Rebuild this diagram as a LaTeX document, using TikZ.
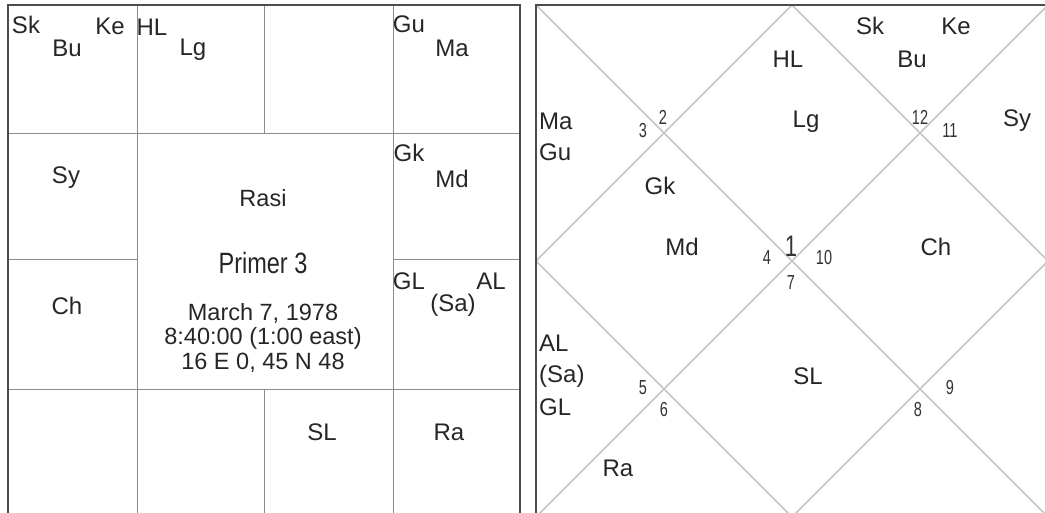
\documentclass[tikz,border=0pt]{standalone}
\usepackage{fontspec}
\setmainfont{Liberation Sans}
\usepackage{graphicx}
\newcommand{\tallx}[2][1.4]{\scalebox{1}[#1]{#2}}
\begin{document}
\begin{tikzpicture}[x=1pt,y=-1pt,
  lbl/.style={font=\fontsize{24}{26}\selectfont, text=black!85, inner sep=0pt},
  num/.style={font=\fontsize{14.5}{16}\selectfont, text=black!80, inner sep=0pt},
  ctr/.style={font=\fontsize{23.5}{25}\selectfont, text=black!85, inner sep=0pt},
  gridline/.style={draw=black!45, line width=1pt},
  outerline/.style={draw=black!70, line width=1.6pt},
  diagline/.style={draw=black!22, line width=1.6pt}]
\useasboundingbox (0,0) rectangle (1045,513);
\clip (0,0) rectangle (1045,513);
\fill[white] (0,0) rectangle (1045,513);
% ---------- South Indian chart ----------
\draw[gridline] (137,5) -- (137,517);
\draw[gridline] (393,5) -- (393,517);
\draw[gridline] (264,5) -- (264,134);
\draw[gridline] (264,389) -- (264,517);
\draw[gridline] (8,134) -- (520,134);
\draw[gridline] (8,389) -- (520,389);
\draw[gridline] (8,260) -- (137,260);
\draw[gridline] (393,260) -- (520,260);
\draw[outerline] (8,5) rectangle (520,517);
% labels
\node[lbl] (lSk) at (26,25) {Sk};
\node[lbl] (lKe) at (110,26) {Ke};
\node[lbl] (lBu) at (67,48) {Bu};
\node[lbl] (lHL) at (152,27) {HL};
\node[lbl] (lLg) at (193,50) {Lg};
\node[lbl] (lGu) at (409,24) {Gu};
\node[lbl] (lMa) at (452,48) {Ma};
\node[lbl] (lSy) at (66,178) {Sy};
\node[lbl] (lGk) at (409,153) {Gk};
\node[lbl] (lMd) at (452,179) {Md};
\node[lbl] (lCh) at (67,306) {Ch};
\node[lbl] (lGL) at (409,281) {GL};
\node[lbl] (lSa) at (453,305) {(Sa)};
\node[lbl] (lAL) at (491,281) {AL};
\node[lbl] (lSL) at (322,432) {SL};
\node[lbl] (lRa) at (449,432) {Ra};
\node[ctr] (rasi) at (263,198) {Rasi};
\node[ctr] (primer) at (263,263) {\tallx[1.25]{Primer 3}};
\node[ctr] (date) at (263,313) {March 7, 1978};
\node[ctr] (time) at (263,338) {8:40:00 (1:00 east)};
\node[ctr] (place) at (263,363) {16 E 0, 45 N 48};
% ---------- North Indian chart ----------
\draw[diagline] (536,5) -- (1048,517);
\draw[diagline] (1048,5) -- (536,517);
\draw[diagline] (792,5) -- (1048,261) -- (792,517) -- (536,261) -- cycle;
\draw[outerline] (536,5) rectangle (1048,517);
\node[lbl] (rHL) at (788,59) {HL};
\node[lbl] (rLg) at (806,122) {Lg};
\node[lbl] (rSk) at (870,26) {Sk};
\node[lbl] (rKe) at (956,26) {Ke};
\node[lbl] (rBu) at (912,59) {Bu};
\node[lbl] (rSy) at (1017,121) {Sy};
\node[lbl] (rCh) at (936,247) {Ch};
\node[lbl] (rGk) at (660,186) {Gk};
\node[lbl] (rMd) at (682,247) {Md};
\node[lbl] (rRa) at (618,468) {Ra};
\node[lbl] (rSL) at (808,376) {SL};
\node[lbl,anchor=west] (rMa) at (539,121) {Ma};
\node[lbl,anchor=west] (rGu) at (539,152) {Gu};
\node[lbl,anchor=west] (rAL) at (539,343) {AL};
\node[lbl,anchor=west] (rSa) at (539,376) {(Sa)};
\node[lbl,anchor=west] (rGL) at (539,407) {GL};
\node[num,font=\fontsize{22}{24}\selectfont] (h1) at (791,246) {\tallx[1.35]{1}};
\node[num] (h2) at (663,117) {\tallx{2}};
\node[num] (h3) at (643,131) {\tallx{3}};
\node[num] (h4) at (767,258) {\tallx{4}};
\node[num] (h5) at (643,388) {\tallx{5}};
\node[num] (h6) at (664,410) {\tallx{6}};
\node[num] (h7) at (791,283) {\tallx{7}};
\node[num] (h8) at (918,410) {\tallx{8}};
\node[num] (h9) at (950,388) {\tallx{9}};
\node[num] (h10) at (824,258) {\tallx{10}};
\node[num] (h11) at (950,131) {\tallx{11}};
\node[num] (h12) at (920,117) {\tallx{12}};
\end{tikzpicture}
\end{document}
